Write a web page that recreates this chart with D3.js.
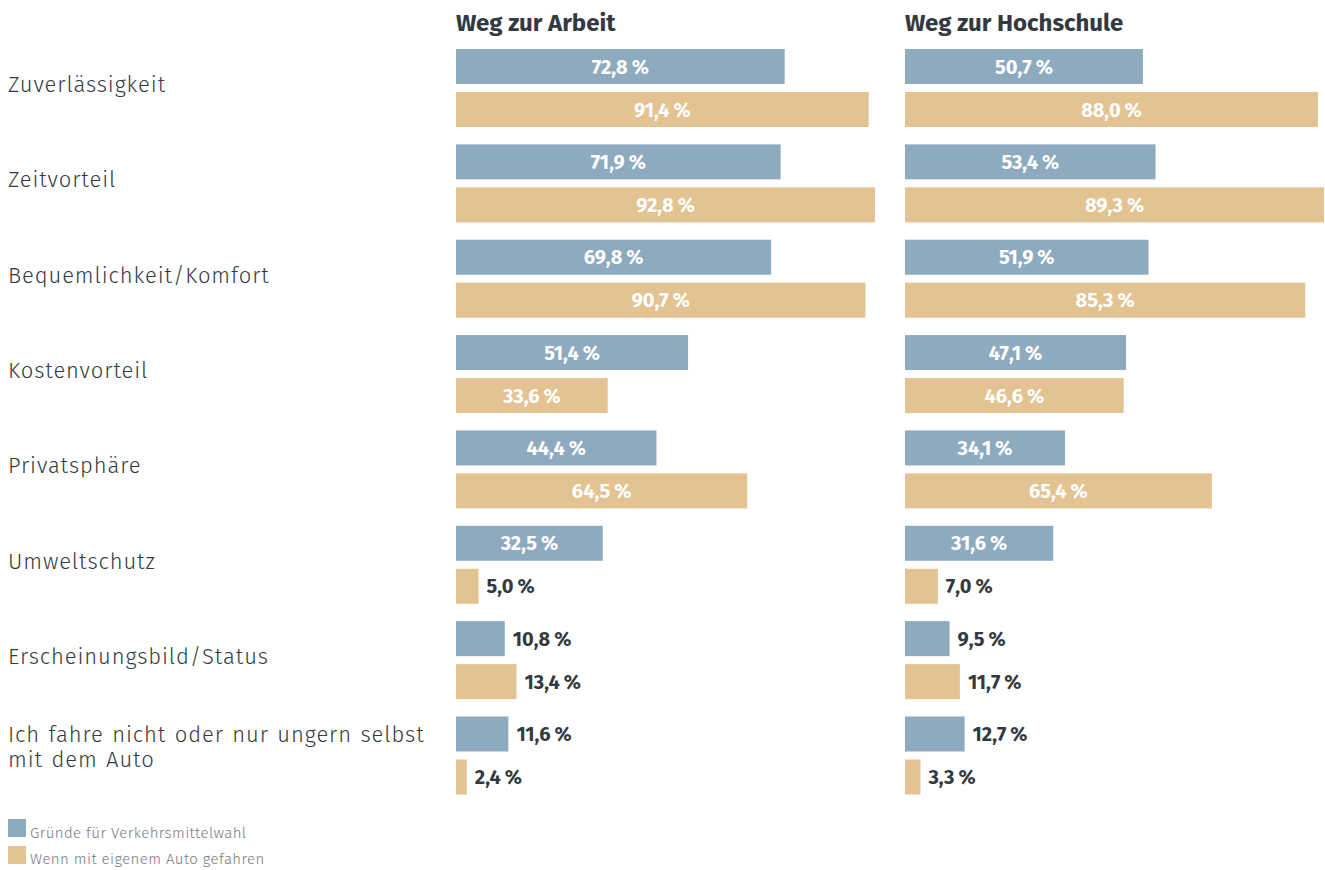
<!DOCTYPE html>
<html lang="de">
<head>
<meta charset="utf-8">
<script src="https://cdn.jsdelivr.net/npm/d3@7"></script>
<style>
  html, body { margin: 0; padding: 0; background: #fff; }
  svg { display: block; font-family: "Fira Sans", "Open Sans", "Noto Sans", sans-serif; }
</style>
</head>
<body>
<svg id="chart" width="1325" height="870"></svg>
<script>
// Kategorien (Gründe)
const categories = [
  "Zuverlässigkeit",
  "Zeitvorteil",
  "Bequemlichkeit/Komfort",
  "Kostenvorteil",
  "Privatsphäre",
  "Umweltschutz",
  "Erscheinungsbild/Status",
  "Ich fahre nicht oder nur ungern selbst mit dem Auto"
];
// Zeilenumbruch für die Kategorienbeschriftung
const categoryLines = [
  ["Zuverlässigkeit"],
  ["Zeitvorteil"],
  ["Bequemlichkeit/Komfort"],
  ["Kostenvorteil"],
  ["Privatsphäre"],
  ["Umweltschutz"],
  ["Erscheinungsbild/Status"],
  ["Ich fahre nicht oder nur ungern selbst", "mit dem Auto"]
];

const seriesNames = ["Gründe für Verkehrsmittelwahl", "Wenn mit eigenem Auto gefahren"];
const panelTitles = ["Weg zur Arbeit", "Weg zur Hochschule"];

// Weg zur Arbeit (%)
const arbeitGruende = [72.8, 71.9, 69.8, 51.4, 44.4, 32.5, 10.8, 11.6];
const arbeitAuto    = [91.4, 92.8, 90.7, 33.6, 64.5, 5.0, 13.4, 2.4];
// Weg zur Hochschule (%)
const hochschuleGruende = [50.7, 53.4, 51.9, 47.1, 34.1, 31.6, 9.5, 12.7];
const hochschuleAuto    = [88.0, 89.3, 85.3, 46.6, 65.4, 7.0, 11.7, 3.3];

const colors = ["#8daabf", "#e2c391"];
const textDark = "#333a3f";

const panels = [
  { title: panelTitles[0], x0: 456, values: [arbeitGruende, arbeitAuto] },
  { title: panelTitles[1], x0: 905, values: [hochschuleGruende, hochschuleAuto] }
];

const svg = d3.select("#chart");
const barSpan = 419;

// Vertikale Anordnung: Gruppen je Kategorie, darin zwei Balken
const y = d3.scaleBand()
  .domain(categories)
  .range([49, 794.5])
  .paddingInner(0.182)
  .paddingOuter(0);
const ySub = d3.scaleBand()
  .domain([0, 1])
  .range([0, y.bandwidth()])
  .paddingInner(0.186)
  .paddingOuter(0);

const fmt = v => d3.format(".1f")(v).replace(".", ",") + "\u2009%";

// Kategorienbeschriftung
const labels = svg.append("g");
categories.forEach((c, i) => {
  const lines = categoryLines[i];
  const mid = y(c) + y.bandwidth() / 2;
  const t = labels.append("text")
    .attr("x", 8)
    .attr("fill", textDark)
    .attr("font-size", 22)
    .attr("font-weight", 300)
    .attr("letter-spacing", 0.9)
    .attr("word-spacing", 1.5);
  if (lines.length === 1) {
    t.append("tspan").attr("x", 8).attr("y", mid + 4).text(lines[0]);
  } else {
    lines.forEach((l, k) => {
      t.append("tspan").attr("x", 8).attr("y", mid - 13 + k * 25).text(l);
    });
  }
});

// Panels
panels.forEach(p => {
  const g = svg.append("g").attr("transform", `translate(${p.x0},0)`);
  const maxV = d3.max(p.values.flat());
  const x = d3.scaleLinear().domain([0, maxV]).range([0, barSpan]);

  g.append("text")
    .attr("x", 0)
    .attr("y", 31)
    .attr("fill", textDark)
    .attr("font-size", 24)
    .attr("font-weight", 700)
    .text(p.title);

  p.values.forEach((vals, s) => {
    const rows = g.append("g");
    vals.forEach((v, i) => {
      const top = y(categories[i]) + ySub(s);
      const w = x(v);
      rows.append("rect")
        .attr("x", x(0))
        .attr("y", top)
        .attr("width", w)
        .attr("height", ySub.bandwidth())
        .attr("fill", colors[s]);
      const inside = w > 100;
      rows.append("text")
        .attr("x", inside ? w / 2 : w + 8)
        .attr("y", top + ySub.bandwidth() / 2)
        .attr("dy", "0.35em")
        .attr("text-anchor", inside ? "middle" : "start")
        .attr("fill", inside ? "#ffffff" : textDark)
        .attr("font-size", 20)
        .attr("font-weight", 700)
        .text(fmt(v));
    });
  });
});

// Legende
const legend = svg.append("g");
seriesNames.forEach((n, i) => {
  legend.append("rect")
    .attr("x", 8).attr("y", 819 + i * 27)
    .attr("width", 18).attr("height", 18)
    .attr("fill", colors[i]);
  legend.append("text")
    .attr("x", 30).attr("y", 838 + i * 26)
    .attr("fill", "#777b7f")
    .attr("font-size", 15)
    .attr("font-weight", 300)
    .attr("letter-spacing", 0.4)
    .text(n);
});
</script>
</body>
</html>
